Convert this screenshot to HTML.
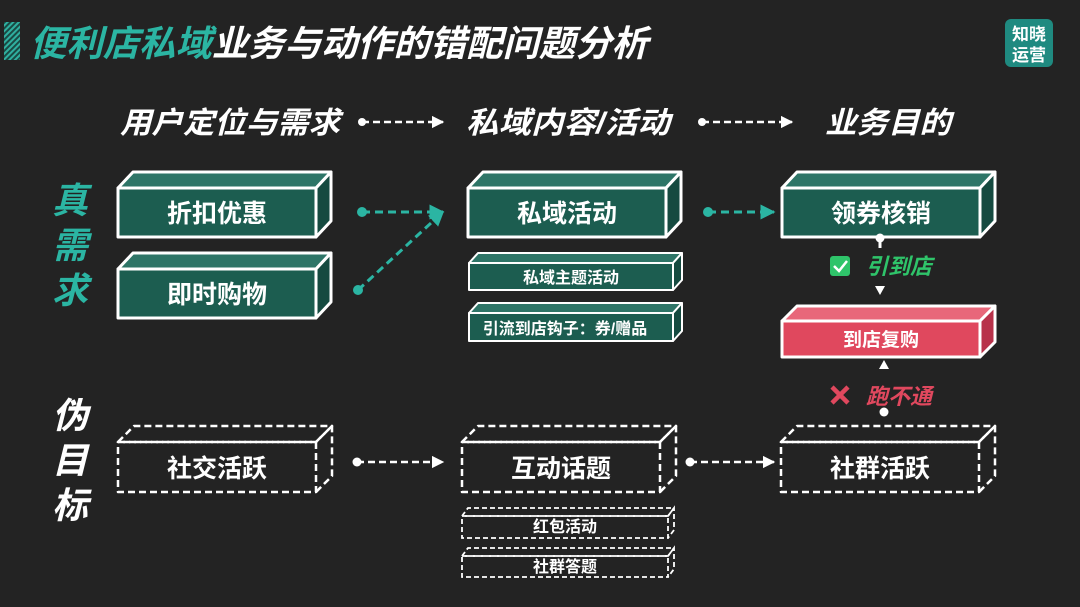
<!DOCTYPE html>
<html><head><meta charset="utf-8"><style>
html,body{margin:0;padding:0;background:#232323;}
svg{display:block}
text{font-family:"Liberation Sans","Noto Sans CJK SC",sans-serif;font-weight:bold;}
</style></head><body>
<svg width="1080" height="607" viewBox="0 0 1080 607" xmlns="http://www.w3.org/2000/svg">
<defs>
<pattern id="hatch" width="4" height="4" patternUnits="userSpaceOnUse" patternTransform="rotate(45)">
<rect width="4" height="4" fill="#1a4a44"/><rect width="2" height="4" fill="#2fb0a0"/></pattern>
<marker id="aw" viewBox="0 0 10 10" refX="9" refY="5" markerWidth="5" markerHeight="5" orient="auto"><path d="M0,0L10,5L0,10z" fill="#fff"/></marker>
<marker id="at" viewBox="0 0 10 10" refX="9" refY="5" markerWidth="5" markerHeight="5" orient="auto"><path d="M0,0L10,5L0,10z" fill="#2bb5a3"/></marker>
</defs>
<rect width="1080" height="607" fill="#232323"/>
<!-- title -->
<rect x="4" y="22" width="16" height="38" fill="url(#hatch)"/>
<text x="30" y="56" font-size="36" fill="#2bb5a3" font-style="italic" textLength="618" lengthAdjust="spacingAndGlyphs">便利店私域<tspan fill="#fff">业务与动作的错配问题分析</tspan></text>
<!-- logo -->
<rect x="1005" y="19" width="48" height="48" rx="6" fill="#1f8a80"/>
<text x="1029" y="40" font-size="17" fill="#fff" text-anchor="middle">知晓</text>
<text x="1029" y="61" font-size="17" fill="#fff" text-anchor="middle">运营</text>
<!-- headers -->
<g font-size="30" fill="#fff" font-style="italic" font-weight="normal" text-anchor="middle">
<text x="230" y="133" textLength="220" lengthAdjust="spacingAndGlyphs">用户定位与需求</text>
<text x="568" y="133" textLength="204" lengthAdjust="spacingAndGlyphs">私域内容/活动</text>
<text x="888" y="133" textLength="126" lengthAdjust="spacingAndGlyphs">业务目的</text>
</g>
<g stroke="#fff" stroke-width="2.5" stroke-dasharray="7,4" fill="none">
<line x1="362" y1="122" x2="443" y2="122" marker-end="url(#aw)"/>
<line x1="702" y1="122" x2="792" y2="122" marker-end="url(#aw)"/>
</g>
<circle cx="362" cy="122" r="4" fill="#fff"/><circle cx="702" cy="122" r="4" fill="#fff"/>
<!-- left labels -->
<g font-size="36" text-anchor="middle" font-style="italic">
<text x="70" y="213" fill="#2bb5a3">真</text>
<text x="70" y="258" fill="#2bb5a3">需</text>
<text x="70" y="303" fill="#2bb5a3">求</text>
<text x="70" y="428" fill="#fff">伪</text>
<text x="70" y="473" fill="#fff">目</text>
<text x="70" y="518" fill="#fff">标</text>
</g>
<!-- solid teal boxes -->
<g stroke="#fff" stroke-width="3" stroke-linejoin="round">
<polygon points="118,188 133,172 331,172 316,188" fill="#2e7567"/>
<polygon points="316,188 331,172 331,221 316,237" fill="#154a40"/>
<rect x="118" y="188" width="198" height="49" fill="#1c5d50"/>
<polygon points="118,269 133,253 331,253 316,269" fill="#2e7567"/>
<polygon points="316,269 331,253 331,302 316,318" fill="#154a40"/>
<rect x="118" y="269" width="198" height="49" fill="#1c5d50"/>
<polygon points="468,188 483,172 681,172 666,188" fill="#2e7567"/>
<polygon points="666,188 681,172 681,221 666,237" fill="#154a40"/>
<rect x="468" y="188" width="198" height="49" fill="#1c5d50"/>
<polygon points="782,188 797,172 995,172 980,188" fill="#2e7567"/>
<polygon points="980,188 995,172 995,221 980,237" fill="#154a40"/>
<rect x="782" y="188" width="198" height="49" fill="#1c5d50"/>
</g>
<g stroke="#fff" stroke-width="2" stroke-linejoin="round">
<polygon points="469,263 478,253 682,253 673,263" fill="#2e7567"/>
<polygon points="673,263 682,253 682,280 673,290" fill="#154a40"/>
<rect x="469" y="263" width="204" height="27" fill="#1c5d50"/>
<polygon points="469,313 478,303 682,303 673,313" fill="#2e7567"/>
<polygon points="673,313 682,303 682,331 673,341" fill="#154a40"/>
<rect x="469" y="313" width="204" height="28" fill="#1c5d50"/>
</g>
<!-- pink box -->
<g stroke="#fff" stroke-width="3" stroke-linejoin="round">
<polygon points="782,321 797,306 995,306 980,321" fill="#e8677a"/>
<polygon points="980,321 995,306 995,342 980,357" fill="#b8324a"/>
<rect x="782" y="321" width="198" height="36" fill="#e0485e"/>
</g>
<!-- dashed boxes -->
<g stroke="#fff" stroke-width="2.5" stroke-dasharray="7,4" fill="none" stroke-linejoin="round">
<polygon points="118,442 134,426 332,426 316,442"/>
<polyline points="316,442 332,426 332,476 316,492"/>
<rect x="118" y="442" width="198" height="50"/>
<polygon points="462,442 478,426 676,426 660,442"/>
<polyline points="660,442 676,426 676,476 660,492"/>
<rect x="462" y="442" width="198" height="50"/>
<polygon points="781,442 797,426 995,426 979,442"/>
<polyline points="979,442 995,426 995,476 979,492"/>
<rect x="781" y="442" width="198" height="50"/>
</g>
<g stroke="#fff" stroke-width="1.8" stroke-dasharray="5,3" fill="none">
<polygon points="462,516 468,508 674,508 668,516"/>
<polyline points="668,516 674,508 674,530 668,538"/>
<rect x="462" y="516" width="206" height="22"/>
<polygon points="462,556 468,548 674,548 668,556"/>
<polyline points="668,556 674,548 674,569 668,577"/>
<rect x="462" y="556" width="206" height="21"/>
</g>
<!-- box labels -->
<g font-size="25" fill="#fff" text-anchor="middle">
<text x="217" y="222">折扣优惠</text>
<text x="217" y="303">即时购物</text>
<text x="567" y="222">私域活动</text>
<text x="881" y="222">领券核销</text>
<text x="217" y="477">社交活跃</text>
<text x="561" y="477">互动话题</text>
<text x="880" y="477">社群活跃</text>
</g>
<g font-size="16" fill="#fff" text-anchor="middle">
<text x="571" y="283">私域主题活动</text>
<text x="565" y="334">引流到店钩子：券/赠品</text>
<text x="881" y="346" font-size="19">到店复购</text>
<text x="565" y="532">红包活动</text>
<text x="565" y="572">社群答题</text>
</g>
<!-- teal arrows -->
<g stroke="#2bb5a3" stroke-width="3" stroke-dasharray="8,5" fill="none">
<line x1="362" y1="212" x2="443" y2="212" marker-end="url(#at)"/>
<line x1="358" y1="290" x2="443" y2="212" marker-end="url(#at)"/>
<line x1="708" y1="212" x2="774" y2="212" marker-end="url(#at)"/>
</g>
<circle cx="362" cy="212" r="5" fill="#2bb5a3"/><circle cx="358" cy="290" r="5" fill="#2bb5a3"/><circle cx="708" cy="212" r="5" fill="#2bb5a3"/>
<!-- white arrows bottom -->
<g stroke="#fff" stroke-width="2.5" stroke-dasharray="7,4" fill="none">
<line x1="357" y1="462" x2="443" y2="462" marker-end="url(#aw)"/>
<line x1="690" y1="462" x2="774" y2="462" marker-end="url(#aw)"/>
</g>
<circle cx="357" cy="462" r="4.5" fill="#fff"/><circle cx="690" cy="462" r="4.5" fill="#fff"/>
<!-- vertical connectors -->
<circle cx="880" cy="238" r="4.5" fill="#fff"/><line x1="880" y1="238" x2="880" y2="248" stroke="#fff" stroke-width="3"/>
<path d="M875,286 L885,286 L880,295z" fill="#fff"/>
<path d="M879,369 L889,369 L884,360z" fill="#fff"/>
<circle cx="884" cy="412" r="4.5" fill="#fff"/>
<rect x="830" y="256" width="20" height="20" rx="3" fill="#2fc46a"/>
<path d="M834,266 L839,271 L847,261" stroke="#fff" stroke-width="2.5" fill="none"/>
<text x="866" y="274" font-size="22" fill="#2fc46a" font-style="italic">引到店</text>
<path d="M832,387 L848,403 M848,387 L832,403" stroke="#e0485e" stroke-width="4.5"/>
<text x="866" y="404" font-size="22" fill="#e0485e" font-style="italic">跑不通</text>
</svg>
</body></html>
